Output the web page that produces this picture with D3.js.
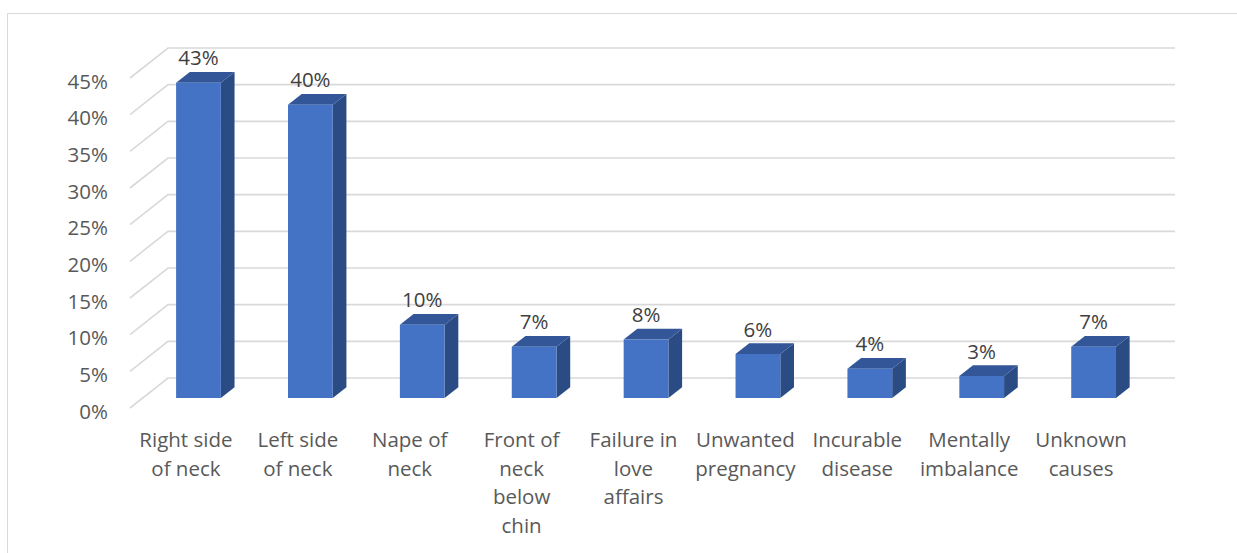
<!DOCTYPE html>
<html>
<head>
<meta charset="utf-8">
<script src="https://cdn.jsdelivr.net/npm/d3@7"></script>
<style>
  html, body { margin: 0; padding: 0; background: #fff; }
  svg { display: block; }
  text { font-family: "Open Sans", "Liberation Sans", sans-serif; }
</style>
</head>
<body>
<svg id="chart" width="1237" height="553"></svg>
<script>
const categories = ["Right side of neck", "Left side of neck", "Nape of neck", "Front of neck below chin",
  "Failure in love affairs", "Unwanted pregnancy", "Incurable disease", "Mentally imbalance", "Unknown causes"];
const categoryLines = [["Right side", "of neck"], ["Left side", "of neck"], ["Nape of", "neck"],
  ["Front of", "neck", "below", "chin"], ["Failure in", "love", "affairs"], ["Unwanted", "pregnancy"],
  ["Incurable", "disease"], ["Mentally", "imbalance"], ["Unknown", "causes"]];
const values = [0.43, 0.40, 0.10, 0.07, 0.08, 0.06, 0.04, 0.03, 0.07];
const yTicks = [0, 0.05, 0.10, 0.15, 0.20, 0.25, 0.30, 0.35, 0.40, 0.45];
const yTickLabels = ["0%", "5%", "10%", "15%", "20%", "25%", "30%", "35%", "40%", "45%"];

const svg = d3.select("#chart");
const FRONT_L = 130, FRONT_R = 1137;
const DX = 38, DY = -30;       // oblique depth offset
const Z0 = 0.33, Z1 = 0.69;    // bar depth range
const FS = 20.5;

const x = d3.scaleBand().domain(categories).range([FRONT_L, FRONT_R]).paddingInner(0.6).paddingOuter(0.3);
const y = d3.scaleLinear().domain([0, 0.45]).range([408, 78]);
const P = (xv, v, z) => [xv + z * DX, y(v) + z * DY];
const pts = arr => arr.map(p => p.join(",")).join(" ");

// chart border
svg.append("rect").attr("x", 7.5).attr("y", 13.5).attr("width", 1300).attr("height", 600)
  .attr("fill", "none").attr("stroke", "#d9d9d9").attr("stroke-width", 1);

// gridlines (side wall diagonal + back wall)
const grid = svg.append("g").attr("stroke", "#d9d9d9").attr("stroke-width", 1.6).attr("fill", "none");
yTicks.forEach(t => {
  const a = P(FRONT_L, t, 0), b = P(FRONT_L, t, 1), c = P(FRONT_R, t, 1);
  grid.append("polyline").attr("points", pts([a, b, c]));
});

// y axis labels
svg.append("g").selectAll("text").data(yTicks).join("text")
  .attr("x", 108).attr("y", d => y(d) + 10.5)
  .attr("text-anchor", "end").attr("font-size", FS).attr("fill", "#595959")
  .text((d, i) => yTickLabels[i]);

// bars
const bars = svg.append("g");
categories.forEach((c, i) => {
  const v = values[i];
  const x0 = x(c), x1 = x0 + x.bandwidth();
  const g = bars.append("g");
  g.append("polygon").attr("fill", "#2b4b84")
    .attr("points", pts([P(x1, 0, Z0), P(x1, v, Z0), P(x1, v, Z1), P(x1, 0, Z1)]));
  g.append("polygon").attr("fill", "#325698")
    .attr("points", pts([P(x0, v, Z0), P(x1, v, Z0), P(x1, v, Z1), P(x0, v, Z1)]));
  g.append("polygon").attr("fill", "#4472c4")
    .attr("points", pts([P(x0, 0, Z0), P(x1, 0, Z0), P(x1, v, Z0), P(x0, v, Z0)]));
  const cx = (x0 + x1) / 2 + Z0 * DX;
  g.append("text").attr("x", cx).attr("y", P(x1, v, Z1)[1] - 6.5)
    .attr("text-anchor", "middle").attr("font-size", FS).attr("fill", "#404040")
    .text(Math.round(v * 100) + "%");
});

// category labels
const cl = svg.append("g");
categories.forEach((c, i) => {
  const t = cl.append("text").attr("text-anchor", "middle").attr("font-size", FS).attr("fill", "#595959");
  const cx = x(c) + x.bandwidth() / 2;
  categoryLines[i].forEach((line, j) => {
    t.append("tspan").attr("x", cx).attr("y", 447 + j * 28.5).text(line);
  });
});
</script>
</body>
</html>
